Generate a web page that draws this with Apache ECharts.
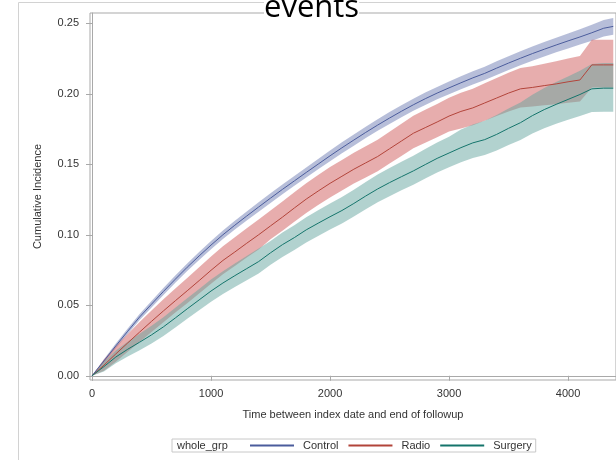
<!DOCTYPE html>
<html>
<head>
<meta charset="utf-8">
<script src="https://cdn.jsdelivr.net/npm/echarts@6/dist/echarts.min.js"></script>
<style>
  html, body { margin: 0; padding: 0; background: #fff; }
  #chart { width: 616px; height: 460px; }
</style>
</head>
<body>
<div id="chart"></div>
<script>
// cumulative incidence by whole_grp, with confidence bands

var times = [0, 100, 200, 300, 400, 500, 600, 700, 800, 900, 1000, 1100, 1200, 1300, 1400,
    1500, 1600, 1700, 1800, 1900, 2000, 2100, 2200, 2300, 2400, 2500, 2600, 2700, 2800, 2900,
    3000, 3100, 3200, 3300, 3400, 3500, 3600, 3700, 3800, 3900, 4000, 4100, 4200, 4300, 4380];

var controlEst = [0, 0.0105, 0.0212, 0.0316, 0.0417, 0.0508, 0.0598, 0.0685, 0.077, 0.085, 0.0927, 0.1, 0.1068, 0.1133, 0.1197,
    0.126, 0.1322, 0.1382, 0.1442, 0.1501, 0.156, 0.1617, 0.1672, 0.1726, 0.1778, 0.1828, 0.1876, 0.1922, 0.1965, 0.2005,
    0.2042, 0.2078, 0.2113, 0.2145, 0.2182, 0.2218, 0.2252, 0.2285, 0.2316, 0.2346, 0.2375, 0.2403, 0.2433, 0.2465, 0.2478];
var controlLow = [0, 0.0093, 0.0196, 0.0297, 0.0396, 0.0485, 0.0573, 0.0659, 0.0743, 0.0822, 0.0898, 0.097, 0.1037, 0.1101, 0.1164,
    0.1226, 0.1287, 0.1347, 0.1406, 0.1464, 0.1522, 0.1578, 0.1632, 0.1686, 0.1737, 0.1786, 0.1834, 0.1879, 0.1921, 0.1961,
    0.1997, 0.2032, 0.2066, 0.2098, 0.2134, 0.2169, 0.2202, 0.2235, 0.2265, 0.2294, 0.2322, 0.2349, 0.2377, 0.2407, 0.2418];
var controlHigh = [0, 0.0117, 0.0228, 0.0335, 0.0438, 0.0531, 0.0623, 0.0711, 0.0797, 0.0878, 0.0956, 0.103, 0.1099, 0.1165, 0.123,
    0.1294, 0.1357, 0.1417, 0.1478, 0.1538, 0.1598, 0.1656, 0.1712, 0.1766, 0.1819, 0.187, 0.1918, 0.1965, 0.2009, 0.2049,
    0.2087, 0.2124, 0.216, 0.2192, 0.223, 0.2267, 0.2302, 0.2335, 0.2367, 0.2398, 0.2428, 0.2457, 0.2489, 0.2523, 0.2538];

var radioEst = [0, 0.0075, 0.0155, 0.0233, 0.031, 0.0386, 0.046, 0.0532, 0.0603, 0.0675, 0.0748, 0.0818, 0.0878, 0.094, 0.1,
    0.1063, 0.1125, 0.119, 0.1253, 0.131, 0.1365, 0.1415, 0.1465, 0.151, 0.1555, 0.161, 0.1665, 0.172, 0.176, 0.18,
    0.1842, 0.1875, 0.19, 0.1935, 0.197, 0.2005, 0.2035, 0.2045, 0.2058, 0.207, 0.2085, 0.2098, 0.2205, 0.2205, 0.2205];
var radioLow = [0, 0.0035, 0.01, 0.017, 0.024, 0.0311, 0.038, 0.0448, 0.0515, 0.0583, 0.0653, 0.072, 0.0778, 0.0838, 0.0896,
    0.0968, 0.1029, 0.1093, 0.1155, 0.1211, 0.1265, 0.1314, 0.1363, 0.1407, 0.1451, 0.1505, 0.1559, 0.1613, 0.1652, 0.1691,
    0.1732, 0.1753, 0.1776, 0.1809, 0.1842, 0.1875, 0.1902, 0.1909, 0.1918, 0.1926, 0.1937, 0.1946, 0.2045, 0.2045, 0.2045];
var radioHigh = [0, 0.0115, 0.021, 0.0297, 0.0381, 0.0463, 0.0542, 0.0619, 0.0694, 0.077, 0.0846, 0.0919, 0.0982, 0.1046, 0.1108,
    0.1173, 0.1236, 0.1302, 0.1366, 0.1424, 0.148, 0.1531, 0.1582, 0.1628, 0.1674, 0.173, 0.1787, 0.1844, 0.1886, 0.1928,
    0.1972, 0.2008, 0.2036, 0.2074, 0.2112, 0.215, 0.2183, 0.2196, 0.2213, 0.223, 0.225, 0.2268, 0.2383, 0.2383, 0.2383];

var surgeryEst = [0, 0.0065, 0.0133, 0.0188, 0.0238, 0.029, 0.0347, 0.041, 0.0475, 0.0538, 0.0601, 0.0658, 0.071, 0.076, 0.081,
    0.0872, 0.093, 0.098, 0.1035, 0.1082, 0.1128, 0.1172, 0.1222, 0.1275, 0.1325, 0.137, 0.1412, 0.1453, 0.1498, 0.1542,
    0.158, 0.1618, 0.1652, 0.1675, 0.1712, 0.1755, 0.1795, 0.1845, 0.1888, 0.1925, 0.196, 0.1995, 0.2035, 0.204, 0.204];
var surgeryLow = [0, 0.003, 0.0088, 0.0136, 0.0181, 0.0229, 0.0282, 0.0342, 0.0404, 0.0464, 0.0525, 0.058, 0.063, 0.0678, 0.0726,
    0.0787, 0.0843, 0.0892, 0.0946, 0.0992, 0.1037, 0.108, 0.1129, 0.1181, 0.123, 0.1274, 0.1315, 0.1355, 0.1399, 0.1442,
    0.1479, 0.1514, 0.1545, 0.1565, 0.1598, 0.1637, 0.1673, 0.1718, 0.1756, 0.1787, 0.1815, 0.1843, 0.187, 0.1872, 0.1872];
var surgeryHigh = [0, 0.01, 0.018, 0.0242, 0.0298, 0.0354, 0.0415, 0.0482, 0.055, 0.0616, 0.0682, 0.0742, 0.0797, 0.0849, 0.0902,
    0.0956, 0.1016, 0.1068, 0.1125, 0.1174, 0.1222, 0.1268, 0.132, 0.1375, 0.1427, 0.1474, 0.1518, 0.1561, 0.1608, 0.1655,
    0.1696, 0.1746, 0.1783, 0.1809, 0.1849, 0.1895, 0.1939, 0.1993, 0.2041, 0.2083, 0.2123, 0.2163, 0.2212, 0.2218, 0.2218];

var groups = ['Control', 'Radio', 'Surgery'];
var yTicks = [0, 0.05, 0.10, 0.15, 0.20, 0.25];
var xTicks = [0, 1000, 2000, 3000, 4000];

var lineColors = ['#4b5c9c', '#b2443a', '#14746b'];
var bandColors = ['rgba(111,126,179,0.5)', 'rgba(208,91,91,0.5)', 'rgba(102,165,160,0.5)'];

var est = [controlEst, radioEst, surgeryEst];
var low = [controlLow, radioLow, surgeryLow];
var high = [controlHigh, radioHigh, surgeryHigh];

function pairs(vals) {
    return times.map(function (t, i) { return [t, vals[i]]; });
}

// band polygon: upper edge left->right, lower edge right->left
function bandRenderer(k) {
    return function (params, api) {
        var pts = [];
        for (var i = 0; i < times.length; i++) pts.push(api.coord([times[i], high[k][i]]));
        for (var j = times.length - 1; j >= 0; j--) pts.push(api.coord([times[j], low[k][j]]));
        return {
            type: 'polygon',
            shape: { points: pts },
            style: { fill: bandColors[k], stroke: null }
        };
    };
}

var series = [];
groups.forEach(function (g, k) {
    series.push({
        name: g + ' CI',
        type: 'custom',
        silent: true,
        renderItem: bandRenderer(k),
        data: [[times[0], low[k][0]]]
    });
});
groups.forEach(function (g, k) {
    series.push({
        name: g,
        type: 'line',
        symbol: 'none',
        itemStyle: { color: lineColors[k] },
        lineStyle: { width: 1, color: lineColors[k] },
        data: pairs(est[k])
    });
});

var axisGray = '#a9a9a9';
var labelFont = 'Liberation Sans';

var myChart = echarts.init(document.getElementById('chart'));
var option = {
    animation: false,
    color: lineColors.concat(lineColors),
    title: {
        text: 'events',
        left: 264,
        top: -7,
        padding: 0,
        backgroundColor: '#fff',
        textStyle: { fontFamily: 'Open Sans', fontSize: 31, fontWeight: 'normal', color: '#000' }
    },
    graphic: [{
        type: 'polyline',
        silent: true,
        shape: { points: [[18.5, 460], [18.5, 2.5], [616, 2.5]] },
        style: { stroke: '#d2d2d2', fill: null, lineWidth: 1 }
    }, {
        type: 'text',
        left: 177,
        top: 440,
        style: { text: 'whole_grp', fontFamily: labelFont, fontSize: 11, fill: '#333' }
    }],
    legend: {
        data: groups,
        left: 172,
        top: 439,
        padding: [1, 4, 1, 77],
        itemWidth: 44,
        itemHeight: 10,
        itemGap: 9,
        itemStyle: { opacity: 0 },
        borderColor: '#c8c8c8',
        borderWidth: 1,
        textStyle: { fontFamily: labelFont, fontSize: 11, color: '#333', padding: [0, 0, 0, 4] }
    },
    grid: {
        left: 90,
        top: 13,
        bottom: 80,
        right: -1,
        show: true,
        borderColor: axisGray,
        borderWidth: 1
    },
    xAxis: {
        type: 'value',
        min: -17,
        max: 4403,
        name: 'Time between index date and end of followup',
        nameLocation: 'middle',
        nameGap: 29,
        nameTextStyle: { fontFamily: labelFont, fontSize: 11, color: '#333' },
        axisLine: { lineStyle: { color: axisGray } },
        axisTick: { show: true, length: 5, lineStyle: { color: axisGray }, customValues: xTicks },
        axisLabel: {
            fontFamily: labelFont, fontSize: 11, color: '#333', margin: 8, customValues: xTicks,
            formatter: function (v) { return String(v); }
        },
        splitLine: { show: false }
    },
    yAxis: {
        type: 'value',
        min: -0.003,
        max: 0.2573,
        name: 'Cumulative Incidence',
        nameLocation: 'middle',
        nameGap: 47,
        nameTextStyle: { fontFamily: labelFont, fontSize: 11, color: '#333' },
        axisLine: { show: true, lineStyle: { color: axisGray } },
        axisTick: { show: true, length: 6, lineStyle: { color: axisGray }, customValues: yTicks },
        axisLabel: {
            fontFamily: labelFont, fontSize: 11, color: '#333', margin: 11, customValues: yTicks,
            formatter: function (v) { return v.toFixed(2); }
        },
        splitLine: { show: false }
    },
    series: series
};
myChart.setOption(option);
</script>
</body>
</html>
